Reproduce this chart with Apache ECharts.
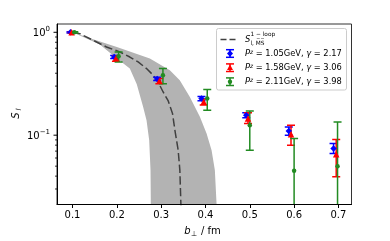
<!DOCTYPE html>
<html><head><meta charset="utf-8">
<script src="https://cdn.jsdelivr.net/npm/echarts@6/dist/echarts.min.js"></script>
<style>html,body{margin:0;padding:0;background:#fff}#c{width:390px;height:241px}</style>
</head><body><div id="c"></div>
<script>
const FONT = 'DejaVu Sans';
// axis ticks
const xTicks = [0.1, 0.2, 0.3, 0.4, 0.5, 0.6, 0.7];
const xTickLabels = ['0.1', '0.2', '0.3', '0.4', '0.5', '0.6', '0.7'];
const yMajorTicks = [0.1, 1];
const yMajorLabels = ['{b|10}{s|\u22121}', '{b|10}{s|0}'];
const yMinorTicks = [0.03, 0.04, 0.05, 0.06, 0.07, 0.08, 0.09, 0.2, 0.3, 0.4, 0.5, 0.6, 0.7, 0.8, 0.9];

// 1-loop curve (dashed)
const curveB = [0.1, 0.1165, 0.1465, 0.1767, 0.2068, 0.2293, 0.248, 0.267, 0.282, 0.293, 0.3045, 0.316, 0.3257, 0.331, 0.3384, 0.3422, 0.3445, 0.3452];
const curveS = [1.0, 0.97, 0.836, 0.72, 0.644, 0.575, 0.515, 0.444, 0.383, 0.329, 0.263, 0.215, 0.162, 0.112, 0.0715, 0.0457, 0.0217, 0.018];
// uncertainty band
const bandUpperB = [0.1, 0.1465, 0.2, 0.2745, 0.3196, 0.342, 0.3648, 0.3874, 0.4025, 0.4138, 0.4212, 0.425, 0.426];
const bandUpperS = [1.0, 0.855, 0.72, 0.555, 0.428, 0.342, 0.235, 0.151, 0.104, 0.0715, 0.0457, 0.0217, 0.015];
const bandLowerB = [0.1, 0.1616, 0.196, 0.2293, 0.245, 0.2594, 0.267, 0.273, 0.276, 0.2767, 0.277];
const bandLowerS = [1.0, 0.76, 0.575, 0.444, 0.313, 0.188, 0.14, 0.0894, 0.0457, 0.0219, 0.015];

// data: Pz = 1.05 GeV
const blueB  = [0.0955, 0.194, 0.291, 0.391, 0.492, 0.588, 0.689];
const blueS  = [1.0, 0.575, 0.352, 0.227, 0.156, 0.110, 0.0743];
const blueLo = [0.985, 0.555, 0.340, 0.216, 0.148, 0.100, 0.0665];
const blueHi = [1.015, 0.595, 0.365, 0.238, 0.165, 0.120, 0.083];
// Pz = 1.58 GeV
const redB  = [0.098, 0.198, 0.296, 0.396, 0.496, 0.593, 0.695];
const redS  = [1.0, 0.558, 0.338, 0.211, 0.145, 0.102, 0.0654];
const redLo = [0.985, 0.523, 0.317, 0.196, 0.130, 0.080, 0.0394];
const redHi = [1.015, 0.590, 0.355, 0.225, 0.165, 0.125, 0.0908];
// Pz = 2.11 GeV
const greenB  = [0.104, 0.204, 0.304, 0.404, 0.5, 0.6, 0.698];
const greenS  = [1.0, 0.585, 0.383, 0.227, 0.125, 0.045, 0.05];
const greenLo = [0.985, 0.515, 0.317, 0.175, 0.0715, 0.001, 0.001];
const greenHi = [1.015, 0.644, 0.444, 0.278, 0.172, 0.093, 0.1346];

const legendLabels = [
  '{i|P}{sup|z}{n| = 1.05GeV, }{i|\u03b3}{n| = 2.17}',
  '{i|P}{sup|z}{n| = 1.58GeV, }{i|\u03b3}{n| = 3.06}',
  '{i|P}{sup|z}{n| = 2.11GeV, }{i|\u03b3}{n| = 3.98}'
];

const BLUE = '#0000ff', RED = '#ff0000', GREEN = '#228b22', GRAY = '#b3b3b3', DASH = '#404040';
const X_MIN = 0.065, X_MAX = 0.7295, Y_MIN = 0.0212, Y_MAX = 1.204;

function errRender(color) {
  return function (params, api) {
    const x = api.value(0), lo = api.value(2), hi = api.value(3);
    const a = api.coord([x, lo]), b = api.coord([x, hi]);
    const cw = 4;
    const st = { stroke: color, lineWidth: 1.5 };
    return { type: 'group', children: [
      { type: 'line', shape: { x1: a[0], y1: a[1], x2: b[0], y2: b[1] }, style: st },
      { type: 'line', shape: { x1: a[0] - cw, y1: a[1], x2: a[0] + cw, y2: a[1] }, style: st },
      { type: 'line', shape: { x1: b[0] - cw, y1: b[1], x2: b[0] + cw, y2: b[1] }, style: st }
    ]};
  };
}
function errSeries(B, S, Lo, Hi, color) {
  return { type: 'custom', clip: true, silent: true, z: 3,
    data: B.map((b, i) => [b, S[i], Lo[i], Hi[i]]),
    encode: { x: 0, y: 1 }, renderItem: errRender(color) };
}
function markSeries(B, S, color, symbol, size) {
  return { type: 'scatter', silent: true, z: 3, symbol: symbol, symbolSize: size,
    itemStyle: { color: color, opacity: 1 }, data: B.map((b, i) => [b, S[i]]) };
}

const chart = echarts.init(document.getElementById('c'), null, { renderer: 'canvas' });

const legendRich = {
  i: { fontFamily: FONT, fontSize: 8.3, fontStyle: 'italic', fill: '#000', verticalAlign: 'bottom' },
  sup: { fontFamily: FONT, fontSize: 5.8, fontStyle: 'italic', fill: '#000', verticalAlign: 'top' },
  n: { fontFamily: FONT, fontSize: 8.3, fill: '#000', verticalAlign: 'bottom' }
};

function legendIcon(y, color, symbol) {
  const x = 230, h = 3.8, cw = 4;
  const st = { stroke: color, lineWidth: 1.5 };
  const children = [
    { type: 'line', z: 100, shape: { x1: x, y1: y - h, x2: x, y2: y + h }, style: st },
    { type: 'line', z: 100, shape: { x1: x - cw, y1: y - h, x2: x + cw, y2: y - h }, style: st },
    { type: 'line', z: 100, shape: { x1: x - cw, y1: y + h, x2: x + cw, y2: y + h }, style: st }
  ];
  if (symbol === 'circle') children.push({ type: 'circle', z: 100, shape: { cx: x, cy: y, r: 2.2 }, style: { fill: color } });
  if (symbol === 'triangle') children.push({ type: 'polygon', z: 100, shape: { points: [[x, y - 3.2], [x + 3, y + 2.2], [x - 3, y + 2.2]] }, style: { fill: color } });
  if (symbol === 'diamond') children.push({ type: 'polygon', z: 100, shape: { points: [[x, y - 3.3], [x + 3, y], [x, y + 3.3], [x - 3, y]] }, style: { fill: color } });
  return children;
}

const option = {
  animation: false,
  backgroundColor: '#fff',
  grid: { left: 57, top: 24, width: 294.5, height: 180.5, show: true, borderColor: '#333', borderWidth: 1, containLabel: false, outerBoundsMode: 'none' },
  xAxis: {
    type: 'value', min: X_MIN, max: X_MAX, z: 10,
    axisLine: { show: true, onZero: false, lineStyle: { color: '#000', width: 1 } },
    axisTick: { show: true, length: 3.5, customValues: xTicks, lineStyle: { color: '#000', width: 1 } },
    axisLabel: { show: true, customValues: xTicks, margin: 6, color: '#000', fontFamily: FONT, fontSize: 10,
      formatter: v => xTickLabels[xTicks.findIndex(t => Math.abs(t - v) < 1e-9)] },
    splitLine: { show: false }
  },
  yAxis: {
    type: 'log', logBase: 10, min: Y_MIN, max: Y_MAX, z: 10,
    axisLine: { show: true, onZero: false, lineStyle: { color: '#000', width: 1 } },
    axisTick: { show: false }, axisLabel: { show: false }, splitLine: { show: false }, minorTick: { show: false }
  },
  series: [
    { type: 'custom', clip: true, silent: true, z: 1,
      data: [[bandUpperB[0], bandUpperS[0]]], encode: { x: 0, y: 1 },
      renderItem: function (params, api) {
        const pts = [];
        for (let i = 0; i < bandUpperB.length; i++) pts.push(api.coord([bandUpperB[i], bandUpperS[i]]));
        for (let i = bandLowerB.length - 1; i >= 0; i--) pts.push(api.coord([bandLowerB[i], bandLowerS[i]]));
        return { type: 'polygon', shape: { points: pts, smooth: 0 }, style: { fill: GRAY } };
      } },
    { type: 'line', silent: true, z: 2, symbol: 'none', clip: true, smooth: false,
      data: curveB.map((b, i) => [b, curveS[i]]),
      lineStyle: { color: DASH, width: 1.5, type: [8.3, 3.4] } },
    errSeries(blueB, blueS, blueLo, blueHi, BLUE),
    markSeries(blueB, blueS, BLUE, 'diamond', 6.5),
    errSeries(redB, redS, redLo, redHi, RED),
    markSeries(redB, redS, RED, 'triangle', 6.5),
    errSeries(greenB, greenS, greenLo, greenHi, GREEN),
    markSeries(greenB, greenS, GREEN, 'circle', 4.5),
    // y major ticks + labels
    { type: 'custom', clip: false, silent: true, z: 10,
      data: yMajorTicks.map((v, i) => [X_MIN, v, i]), encode: { x: 0, y: 1 },
      renderItem: function (params, api) {
        const p = api.coord([api.value(0), api.value(1)]);
        const x0 = params.coordSys.x;
        return { type: 'group', children: [
          { type: 'line', shape: { x1: x0 - 3.5, y1: p[1], x2: x0, y2: p[1] }, style: { stroke: '#000', lineWidth: 1 } },
          { type: 'text', x: x0 - 7, y: p[1], style: {
            text: yMajorLabels[api.value(2)], align: 'right', verticalAlign: 'middle', fill: '#000',
            rich: {
              b: { fontFamily: FONT, fontSize: 10, fill: '#000', verticalAlign: 'bottom', lineHeight: 13 },
              s: { fontFamily: FONT, fontSize: 7, fill: '#000', verticalAlign: 'top', lineHeight: 13 }
            } } }
        ]};
      } },
    // y minor ticks
    { type: 'custom', clip: false, silent: true, z: 10,
      data: yMinorTicks.map(v => [X_MIN, v]), encode: { x: 0, y: 1 },
      renderItem: function (params, api) {
        const p = api.coord([api.value(0), api.value(1)]);
        const x0 = params.coordSys.x;
        return { type: 'line', shape: { x1: x0 - 2, y1: p[1], x2: x0, y2: p[1] }, style: { stroke: '#000', lineWidth: 0.8 } };
      } }
  ],
  graphic: [
    // x axis label
    { type: 'text', x: 187.5, y: 231, z: 50, style: { text: 'b', font: 'italic 10px "DejaVu Sans"', fill: '#000', align: 'center', verticalAlign: 'middle' } },
    { type: 'text', x: 194, y: 234.5, z: 50, style: { text: '\u22a5', font: '7px "DejaVu Sans"', fill: '#000', align: 'center', verticalAlign: 'middle' } },
    { type: 'text', x: 201, y: 231, z: 50, style: { text: '/ fm', font: '10px "DejaVu Sans"', fill: '#000', align: 'left', verticalAlign: 'middle' } },
    // y axis label
    { type: 'group', x: 16, y: 114, rotation: Math.PI / 2, z: 50, children: [
      { type: 'text', x: -1.5, y: 0, style: { text: 'S', font: 'italic 10px "DejaVu Sans"', fill: '#000', align: 'center', verticalAlign: 'middle' } },
      { type: 'text', x: 3.5, y: 2.8, style: { text: 'l', font: 'italic 7px "DejaVu Sans"', fill: '#000', align: 'left', verticalAlign: 'middle' } }
    ] },
    // legend box
    { type: 'rect', z: 90, shape: { x: 216.5, y: 28.5, width: 130, height: 61.5, r: 2 },
      style: { fill: 'rgba(255,255,255,0.8)', stroke: '#cccccc', lineWidth: 1 } },
    { type: 'line', z: 100, shape: { x1: 220.5, y1: 39.5, x2: 237, y2: 39.5 },
      style: { stroke: DASH, lineWidth: 1.5, lineDash: [6, 3] } },
    { type: 'text', x: 245, y: 40, z: 100, style: { text: 'S', font: 'italic 8.3px "DejaVu Sans"', fill: '#000', align: 'left', verticalAlign: 'middle' } },
    { type: 'text', x: 250.5, y: 34.5, z: 100, style: { text: '1 \u2212 loop', font: '5.8px "DejaVu Sans"', fill: '#000', align: 'left', verticalAlign: 'middle' } },
    { type: 'text', x: 250.5, y: 43, z: 100, style: { text: 'l, M\u0305S\u0305', font: '5.8px "DejaVu Sans"', fill: '#000', align: 'left', verticalAlign: 'middle' } },
    ...legendIcon(53.5, BLUE, 'diamond'),
    ...legendIcon(67.7, RED, 'triangle'),
    ...legendIcon(81.7, GREEN, 'circle'),
    { type: 'text', x: 245, y: 53.5, z: 100, style: { text: legendLabels[0], rich: legendRich, align: 'left', verticalAlign: 'middle' } },
    { type: 'text', x: 245, y: 67.7, z: 100, style: { text: legendLabels[1], rich: legendRich, align: 'left', verticalAlign: 'middle' } },
    { type: 'text', x: 245, y: 81.7, z: 100, style: { text: legendLabels[2], rich: legendRich, align: 'left', verticalAlign: 'middle' } }
  ]
};
chart.setOption(option);
</script>
</body></html>
